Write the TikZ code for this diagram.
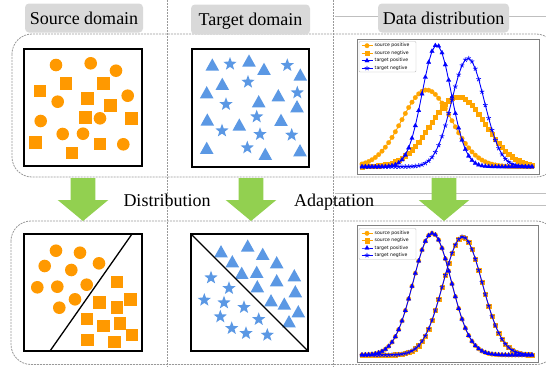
\documentclass[tikz,border=0pt]{standalone}
\usepackage{fontspec}
\setmainfont{Liberation Serif}
\newfontfamily\legendfont{DejaVu Sans}
\usepackage{tikz}
\usetikzlibrary{plotmarks}
\definecolor{hdrgray}{RGB}{217,217,217}
\definecolor{arrowgreen}{RGB}{146,208,80}
\definecolor{srcorange}{RGB}{255,153,0}
\definecolor{tgtblue}{RGB}{91,152,228}
\definecolor{plotorange}{RGB}{255,165,0}
\definecolor{plotblue}{RGB}{0,0,255}

\tikzset{
  hdr/.style={fill=hdrgray, rounded corners=4pt, minimum height=29pt, inner sep=0pt,
    text height=13pt, text depth=1pt, font=\fontsize{18}{20}\selectfont},
  bigtxt/.style={inner sep=0pt, anchor=base, font=\fontsize{18}{20}\selectfont},
  dashframe/.style={gray!80, line width=0.8pt, dash pattern=on 2pt off 1pt, rounded corners=20pt},
  sepline/.style={gray!80, line width=0.8pt, dash pattern=on 2pt off 1pt},
  guide/.style={gray!50, line width=0.7pt},
  panel/.style={line width=1.6pt},
  plotbox/.style={gray, line width=1pt},
  legbox/.style={gray!50, line width=0.4pt, fill=white, rounded corners=1pt},
  legtxt/.style={anchor=west, inner sep=0pt, font=\legendfont\fontsize{4.6}{5}\selectfont},
  srcpos/.style={plotorange, line width=0.9pt, mark=*, mark size=2.3pt,
    mark options={solid, line width=0.2pt, fill=plotorange}},
  srcneg/.style={plotorange, line width=0.9pt, mark=square*, mark size=2.1pt,
    mark options={solid, line width=0.2pt, fill=plotorange}},
  tgtpos/.style={plotblue, line width=0.9pt, mark=triangle*, mark size=2.6pt,
    mark options={solid, line width=0.2pt, fill=plotblue}},
  tgtneg/.style={plotblue, line width=0.9pt, mark=star, mark size=2.4pt,
    mark options={solid, line width=0.7pt}},
  srcdot/.pic={\fill[srcorange] (0,0) circle (6.3pt);},
  srcsq/.pic={\fill[srcorange] (-6.2pt,-6.2pt) rectangle (6.2pt,6.2pt);},
  tgttri/.pic={\fill[tgtblue] (-6.8pt,-5.6pt) -- (6.8pt,-5.6pt) -- (0pt,6.6pt) -- cycle;},
  tgtstar/.pic={\fill[tgtblue] (90:7pt) -- (126:2.9pt) -- (162:7pt) -- (198:2.9pt)
    -- (234:7pt) -- (270:2.9pt) -- (306:7pt) -- (342:2.9pt) -- (18:7pt) -- (54:2.9pt) -- cycle;},
}

\begin{document}
\begin{tikzpicture}[x=1pt, y=-1pt]
  \useasboundingbox (0,0) rectangle (546,367);
  \clip (0,0) rectangle (546,367);

  % Guide lines
  \draw[guide] (335,16) -- (546,16);
  \draw[guide] (335,193.3) -- (546,193.3);
  \draw[guide] (335,205) -- (546,205);

  % Column separators and row frames
  \draw[sepline] (167,0) -- (167,367);
  \draw[sepline] (333,0) -- (333,367);
  \draw[dashframe] (12,34) rectangle (556,177);
  \draw[dashframe] (11,221) rectangle (556,364.5);

  % Headers
  \node[hdr, minimum width=118pt] (srchdr) at (84,18) {Source domain};
  \node[hdr, minimum width=119pt, minimum height=30pt] (tgthdr) at (250.5,19.5) {Target domain};
  \node[hdr, minimum width=131pt] (datahdr) at (443.5,18) {Data distribution};

  % Green arrows
  \foreach \ax in {83,251,444}
    \fill[arrowgreen] ({\ax-12.3},178) -- ({\ax+12.3},178) -- ({\ax+12.3},200)
      -- ({\ax+25.3},200) -- (\ax,221) -- ({\ax-25.3},200) -- ({\ax-12.3},200) -- cycle;
  \node[bigtxt] (disttxt) at (167,206) {Distribution};
  \node[bigtxt] (adapttxt) at (334,206) {Adaptation};

  % Source domain (before)
  \draw[panel] (24,49) rectangle (142,166);
  \foreach \p in {(56,65),(90.7,63.3),(116,70.7),(127.7,95.7),(57.7,101.7),(40.7,121),
                  (100,118.3),(62.7,134),(83,133.7),(123.3,144.3)}
    \pic at \p {srcdot};
  \foreach \p in {(65.7,83.3),(103.3,83.3),(40,91),(87.3,98.3),(110.3,105.3),(85.3,117.3),
                  (131.3,118.3),(35.3,142.3),(100,144),(72,153)}
    \pic at \p {srcsq};

  % Target domain (before)
  \draw[panel] (192,49) rectangle (309,167);
  \foreach \p in {(212.3,65),(249,61),(264,69.3),(300.3,75),(222.3,84.3),(206.7,92.7),
                  (278.3,95.7),(258.7,101.7),(297,106.7),(207.3,120),(239.3,125),(281,120.3),
                  (206.7,148.3),(265.3,154.3),(300,150.7)}
    \pic at \p {tgttri};
  \foreach \p in {(230,64),(287.3,65.3),(248,82),(297.3,92.7),(226,104.3),(256.7,116.7),
                  (222,130.7),(260,134.3),(291.7,135),(247.3,147.7)}
    \pic at \p {tgtstar};

  % Source domain (after)
  \draw[panel] (24,234) rectangle (142,351);
  \foreach \p in {(56,250.7),(80,252.7),(44.7,266),(71.3,270),(99,263.3),(37.3,287.3),
                  (57.3,286.7),(86.7,284.7),(75,299.3),(59.3,307.7)}
    \pic at \p {srcdot};
  \foreach \p in {(116.7,282),(99.3,302.3),(130.3,299.3),(116.7,307.3),(86.7,319),
                  (103.3,325.7),(120,323.3),(132,335),(87.3,340),(114.3,341.7)}
    \pic at \p {srcsq};
  \draw[line width=1.3pt] (50,351) -- (132,234);

  % Target domain (after)
  \draw[panel] (191,234) rectangle (308,351);
  \foreach \p in {(221,251.7),(247.7,246),(262.7,254.3),(232.3,261.7),(276.7,262.7),
                  (241.7,273.3),(256.7,272.3),(294.3,275.7),(276.7,280.7),(257.3,286.7),
                  (295.3,291.7),(271,300.7),(284.3,304),(298.3,311.7),(289,321.7)}
    \pic at \p {tgttri};
  \foreach \p in {(211,277.7),(229,288.3),(204.3,300),(224,302.7),(244,307.3),(220.3,316.7),
                  (258.7,319.3),(231.7,328.3),(246,333.3),(267.3,335)}
    \pic at \p {tgtstar};
  \draw[line width=1.3pt] (191,234) -- (308,351);

  % Distributions (before)
  \draw[plotbox, fill=white] (357,39) rectangle (539,174);
  \draw[srcpos] plot[domain=362:532, samples=52]
    (\x, {166.7-76.7*exp(-0.5*pow((\x-426.7)/25,2))});
  \draw[srcneg] plot[domain=362:532, samples=52]
    (\x, {166.7-70*exp(-0.5*pow((\x-458)/27.4,2))});
  \draw[tgtpos] plot[domain=362:532, samples=52]
    (\x, {166.7-121.7*exp(-0.5*pow((\x-436.7)/14.5,2))});
  \draw[tgtneg] plot[domain=362:532, samples=52]
    (\x, {166.7-108.4*exp(-0.5*pow((\x-468)/16.3,2))});

  % Distributions (after)
  \draw[plotbox, fill=white] (357,225) rectangle (538,362);
  \draw[srcpos] plot[domain=362:532, samples=52]
    (\x, {355-121.7*exp(-0.5*pow((\x-432.3)/19,2))});
  \draw[srcneg] plot[domain=362:532, samples=52]
    (\x, {355-118.3*exp(-0.5*pow((\x-462.7)/19.6,2))});
  \draw[tgtpos] plot[domain=362:532, samples=52]
    (\x, {355-121.7*exp(-0.5*pow((\x-432.3)/19,2))});
  \draw[tgtneg] plot[domain=362:532, samples=52]
    (\x, {355-118.3*exp(-0.5*pow((\x-462.7)/19.6,2))});

  % Legends
  \foreach \ly/\lt/\lb/\ld [count=\p] in {45.7/41.5/72/7.5, 233.3/228.5/259.5/7.35} {
    \draw[legbox] (359,\lt) rectangle (416,\lb);
    \foreach \st/\lab [count=\i] in {srcpos/source positive, srcneg/source negtive,
                                     tgtpos/target positive, tgtneg/target negtive} {
      \draw[\st] plot[mark indices={2}] coordinates
        {(361.5,{\ly+\ld*(\i-1)}) (367,{\ly+\ld*(\i-1)}) (372.5,{\ly+\ld*(\i-1)})};
      \node[legtxt] (lg\p-\i) at (374.5,{\ly+\ld*(\i-1)}) {\lab};
    }
  }
\end{tikzpicture}
\end{document}
